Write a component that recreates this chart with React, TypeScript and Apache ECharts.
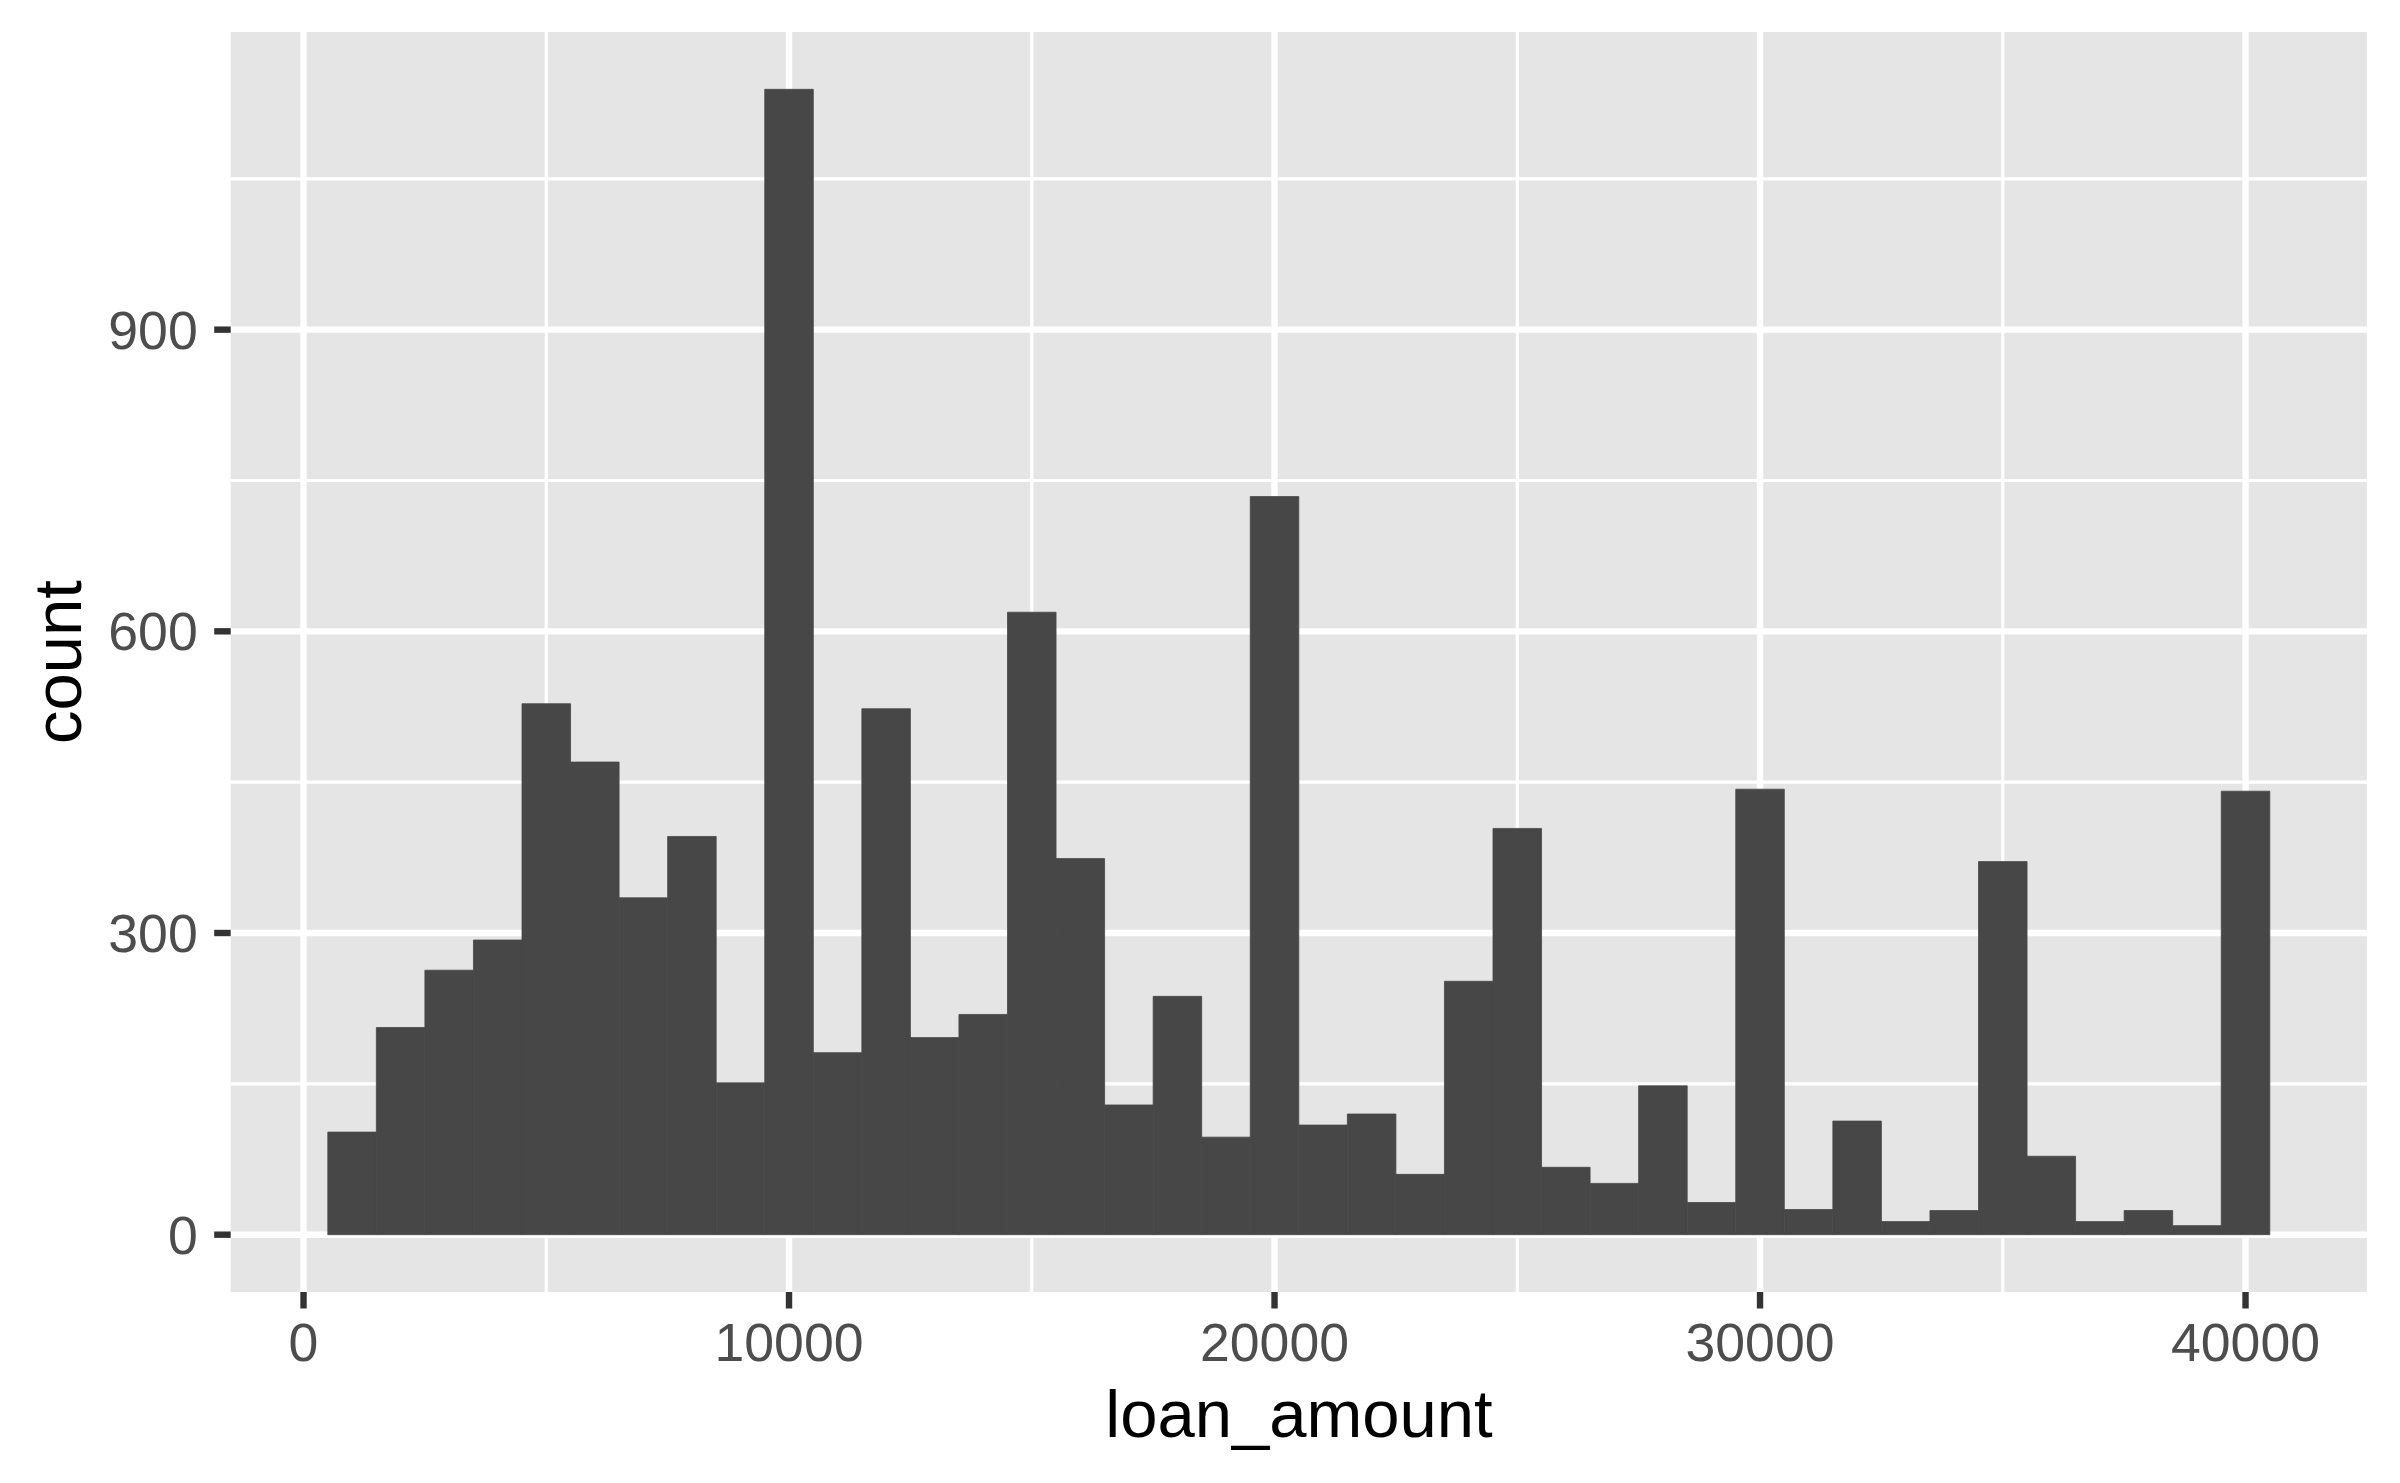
import React, { useEffect, useRef } from "react";
import * as echarts from "echarts";

// Histogram bins (centre of each 1000-wide bin) and counts
const binCenters = [
  1000, 2000, 3000, 4000, 5000, 6000, 7000, 8000, 9000, 10000,
  11000, 12000, 13000, 14000, 15000, 16000, 17000, 18000, 19000, 20000,
  21000, 22000, 23000, 24000, 25000, 26000, 27000, 28000, 29000, 30000,
  31000, 32000, 33000, 34000, 35000, 36000, 37000, 38000, 39000, 40000,
];
const counts = [
  102, 206, 263, 293, 528, 470, 335, 396, 151, 1139,
  181, 523, 196, 219, 619, 374, 129, 237, 97, 734,
  109, 120, 60, 252, 404, 67, 51, 148, 32, 443,
  25, 113, 13, 24, 371, 78, 13, 24, 9, 441,
];
const binWidth = 1000;

const xTicks = [0, 10000, 20000, 30000, 40000];
const xMinor = [5000, 15000, 25000, 35000];
const yTicks = [0, 300, 600, 900];
const yMinor = [150, 450, 750, 1050];

const xTitle = "loan_amount";
const yTitle = "count";

const FONT = '"Liberation Sans", Arial, Helvetica, sans-serif';
const MAJOR_W = 6.4;
const MINOR_W = 3.2;
const TICK_LEN = 16.5;
const TICK_COLOR = "#333333";

function hLines(values: number[], width: number, name: string) {
  return {
    type: "custom",
    name,
    z: 1,
    silent: true,
    data: values.map((v) => [v]),
    renderItem: (params: any, api: any) => {
      const v = api.value(0);
      const cs = params.coordSys;
      const y = api.coord([0, v])[1];
      return {
        type: "line",
        shape: { x1: cs.x, y1: y, x2: cs.x + cs.width, y2: y },
        style: { stroke: "#FFFFFF", lineWidth: width },
      };
    },
  };
}

function vLines(values: number[], width: number, name: string) {
  return {
    type: "custom",
    name,
    z: 1,
    silent: true,
    data: values.map((v) => [v]),
    renderItem: (params: any, api: any) => {
      const v = api.value(0);
      const cs = params.coordSys;
      const x = api.coord([v, 0])[0];
      return {
        type: "line",
        shape: { x1: x, y1: cs.y, x2: x, y2: cs.y + cs.height },
        style: { stroke: "#FFFFFF", lineWidth: width },
      };
    },
  };
}

function yTickMarks(values: number[]) {
  return {
    type: "custom",
    name: "yTicks",
    z: 3,
    silent: true,
    clip: false,
    data: values.map((v) => [v]),
    renderItem: (params: any, api: any) => {
      const v = api.value(0);
      const cs = params.coordSys;
      const y = api.coord([0, v])[1];
      return {
        type: "line",
        shape: { x1: cs.x - TICK_LEN, y1: y, x2: cs.x, y2: y },
        style: { stroke: TICK_COLOR, lineWidth: MAJOR_W },
      };
    },
  };
}

function xTickMarks(values: number[]) {
  return {
    type: "custom",
    name: "xTicks",
    z: 3,
    silent: true,
    clip: false,
    data: values.map((v) => [v]),
    renderItem: (params: any, api: any) => {
      const v = api.value(0);
      const cs = params.coordSys;
      const x = api.coord([v, 0])[0];
      const yb = cs.y + cs.height;
      return {
        type: "line",
        shape: { x1: x, y1: yb, x2: x, y2: yb + TICK_LEN },
        style: { stroke: TICK_COLOR, lineWidth: MAJOR_W },
      };
    },
  };
}

export default function App() {
  const ref = useRef<HTMLDivElement>(null);

  useEffect(() => {
    if (!ref.current) return;
    const chart = echarts.init(ref.current, undefined, { renderer: "svg" });
    const histData = binCenters.map((c, i) => [c, counts[i]]);

    chart.setOption({
      animation: false,
      backgroundColor: "#FFFFFF",
      grid: {
        left: 230.7,
        right: 33.1,
        top: 32,
        bottom: 191,
        show: true,
        backgroundColor: "#E5E5E5",
        borderWidth: 0,
        containLabel: false,
        outerBoundsMode: "none",
      },
      xAxis: {
        type: "value",
        min: -1500,
        max: 42500,
        axisLine: { show: false },
        splitLine: { show: false },
        axisTick: { show: false },
        axisLabel: {
          customValues: xTicks,
          formatter: (v: number) => String(v),
          color: "#4D4D4D",
          fontSize: 53.6,
          fontFamily: FONT,
          margin: 23,
        },
      },
      yAxis: {
        type: "value",
        min: -57,
        max: 1196,
        axisLine: { show: false },
        splitLine: { show: false },
        axisTick: { show: false },
        axisLabel: {
          customValues: yTicks,
          formatter: (v: number) => String(v),
          color: "#4D4D4D",
          fontSize: 53.6,
          fontFamily: FONT,
          margin: 33,
        },
      },
      series: [
        hLines(yMinor, MINOR_W, "yMinor"),
        vLines(xMinor, MINOR_W, "xMinor"),
        hLines(yTicks, MAJOR_W, "yMajor"),
        vLines(xTicks, MAJOR_W, "xMajor"),
        {
          type: "custom",
          name: "count",
          z: 2,
          data: histData,
          renderItem: (params: any, api: any) => {
            const c = api.value(0);
            const n = api.value(1);
            const p1 = api.coord([c - binWidth / 2, n]);
            const p2 = api.coord([c + binWidth / 2, 0]);
            return {
              type: "rect",
              shape: {
                x: p1[0],
                y: p1[1],
                width: p2[0] - p1[0],
                height: p2[1] - p1[1],
              },
              style: { fill: "#474747", stroke: "#474747", lineWidth: 0.8 },
            };
          },
        },
        yTickMarks(yTicks),
        xTickMarks(xTicks),
      ],
      graphic: [
        {
          type: "text",
          x: 1299,
          y: 1413.5,
          style: {
            text: xTitle,
            fill: "#000000",
            fontSize: 67,
            fontFamily: FONT,
            align: "center",
            verticalAlign: "middle",
            textAlign: "center",
            textVerticalAlign: "middle",
          },
        },
        {
          type: "text",
          x: 57,
          y: 662,
          rotation: Math.PI / 2,
          style: {
            text: yTitle,
            fill: "#000000",
            fontSize: 67,
            fontFamily: FONT,
            align: "center",
            verticalAlign: "middle",
            textAlign: "center",
            textVerticalAlign: "middle",
          },
        },
      ],
    });

    return () => {
      chart.dispose();
    };
  }, []);

  return (
    <div
      ref={ref}
      style={{
        position: "fixed",
        left: 0,
        top: 0,
        width: 2400,
        height: 1483,
        background: "#FFFFFF",
      }}
    />
  );
}
